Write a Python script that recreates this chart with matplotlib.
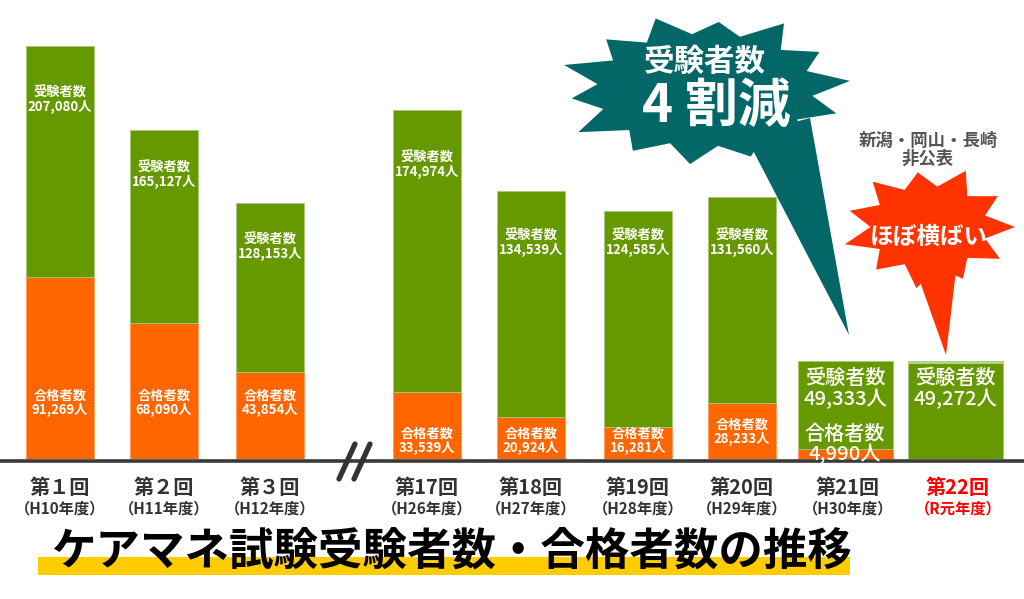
import numpy as np
import matplotlib
matplotlib.use("Agg")
import matplotlib.pyplot as plt
from matplotlib.patches import Polygon, Rectangle

plt.rcParams["font.family"] = ["Noto Sans CJK JP", "DejaVu Sans"]

# ── data ─────────────────────────────────────────────────────────────────────
rounds = ["第１回", "第２回", "第３回", "第17回", "第18回", "第19回",
          "第20回", "第21回", "第22回"]
years = ["（H10年度）", "（H11年度）", "（H12年度）", "（H26年度）", "（H27年度）",
         "（H28年度）", "（H29年度）", "（H30年度）", "（R元年度）"]
examinees = [207080, 165127, 128153, 174974, 134539, 124585, 131560, 49333, 49272]
passers = [91269, 68090, 43854, 33539, 20924, 16281, 28233, 4990, None]

# ── layout (pixels of a 1024x599 canvas) ─────────────────────────────────────
W, H = 1024, 599
BASE = 459
xpos = [60, 164, 270, 427, 531, 638, 742, 845, 955]
bar_w = [68, 68, 68, 68, 68, 68, 68, 95, 95]
green_lab_y = [100, 175, 247, 165, 243, 243, 243, 389, 389]
orange_lab_y = [403, 403, 403, 441, 441, 441, 432, 444, None]
big = [False] * 7 + [True, True]

GREEN = "#669900"
ORANGE = "#ff6600"
TEAL = "#036767"
RED = "#ff3300"
DARK = "#333333"

px_per_person = (BASE - 46) / examinees[0]

fig = plt.figure(figsize=(W / 100, H / 100), dpi=100)
ax = fig.add_axes([0, (H - BASE) / H, 1, BASE / H])
ax.set_xlim(0, W)
ax.set_ylim(0, BASE / px_per_person)
ax.axis("off")

pass_vals = [p if p is not None else 0 for p in passers]
green_vals = [e - p for e, p in zip(examinees, pass_vals)]
ax.bar(xpos, pass_vals, bar_w, color=ORANGE, edgecolor="#ff9955", linewidth=0.5)
ax.bar(xpos, green_vals, bar_w, bottom=pass_vals, color=GREEN,
       edgecolor="#a8c878", linewidth=0.6)
# light strip on top of the latest bar
ax.bar(xpos[-1], 3 / px_per_person, bar_w[-1],
       bottom=examinees[-1] - 3 / px_per_person, color="#b3d388", linewidth=0)

# overlay in pixel coordinates
ov = fig.add_axes([0, 0, 1, 1], facecolor="none")
ov.set_xlim(0, W)
ov.set_ylim(H, 0)
ov.axis("off")

# baseline + break mark
ov.plot([0, W], [BASE + 1.5, BASE + 1.5], color="#3a3a3a", lw=2.6,
        solid_capstyle="butt")
for dx in (0, 15):
    ov.plot([355 + dx, 339 + dx], [444, 479], color=DARK, lw=3.8,
            solid_capstyle="round")

# bar labels
for i, x in enumerate(xpos):
    fs = 14.5 if big[i] else 9.5
    fw = "medium" if big[i] else "bold"
    ov.text(x, green_lab_y[i], f"受験者数\n{examinees[i]:,}人", color="white",
            fontsize=fs, fontweight=fw, ha="center", va="center",
            linespacing=1.0)
    if passers[i] is not None:
        ov.text(x, orange_lab_y[i], f"合格者数\n{passers[i]:,}人", color="white",
                fontsize=fs, fontweight=fw, ha="center", va="center",
                linespacing=1.0)

# category labels
for i, x in enumerate(xpos):
    c = "#ff0000" if i == len(xpos) - 1 else DARK
    ov.text(x + (3 if big[i] else 0), 487, rounds[i], color=c, fontsize=14.5,
            fontweight="bold", ha="center", va="center")
    ov.text(x + (3 if big[i] else 0), 508, years[i], color=c, fontsize=11,
            fontweight="bold", ha="center", va="center")

# title with highlighter
ov.add_patch(Rectangle((38, 557), 812, 18, color="#ffcc00", lw=0, zorder=1))
ov.text(452, 553, "ケアマネ試験受験者数・合格者数の推移", fontsize=32,
        fontweight="bold", color="black", ha="center", va="center", zorder=2)


def burst(cx, cy, rx, ry, outer, inner=0.74, rot=0.0):
    n = len(outer)
    pts = []
    for k in range(n):
        a1 = rot + 2 * np.pi * k / n
        a2 = rot + 2 * np.pi * (k + 0.5) / n
        pts.append((cx + rx * outer[k] * np.cos(a1), cy - ry * outer[k] * np.sin(a1)))
        pts.append((cx + rx * inner * np.cos(a2), cy - ry * inner * np.sin(a2)))
    return pts


# teal burst: 受験者数 4割減
teal_outer = [1.0, 0.93, 1.03, 0.9, 1.0, 0.95, 1.02, 0.92, 1.03, 0.94, 0.98, 0.93, 1.0, 0.95]
ov.add_patch(Polygon(burst(705, 90, 146, 76, teal_outer, 0.74, rot=0.12),
                     closed=True, color=TEAL, lw=0, zorder=3))
ov.add_patch(Polygon([(745, 135), (810, 118), (849, 335)], closed=True,
                     color=TEAL, lw=0, zorder=3))
ov.text(705, 62, "受験者数", color="white", fontsize=22, fontweight="bold",
        ha="center", va="center", zorder=4)
ov.text(716, 106, "4 割減", color="white", fontsize=38, fontweight="bold",
        ha="center", va="center", zorder=4)

# red burst: ほぼ横ばい
red_outer = [1.0, 0.95, 1.03, 0.92, 1.0, 0.96, 1.02, 0.94, 1.03, 0.95, 0.98]
ov.add_patch(Polygon(burst(929, 227, 86, 60, red_outer, 0.68, rot=0.0),
                     closed=True, color=RED, lw=0, zorder=3))
ov.add_patch(Polygon([(913, 262), (957, 262), (946, 355)], closed=True,
                     color=RED, lw=0, zorder=3))
ov.text(929, 237, "ほぼ横ばい", color="white", fontsize=17, fontweight="bold",
        ha="center", va="center", zorder=4)

ov.text(928, 150, "新潟・岡山・長崎\n非公表", color="#555555", fontsize=12.5,
        fontweight="bold", ha="center", va="center", linespacing=1.0)

fig.savefig("out.png", dpi=100)
